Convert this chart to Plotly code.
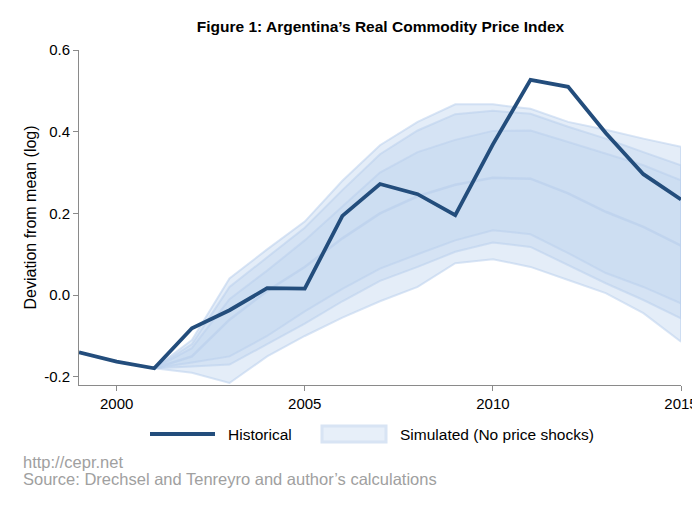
import plotly.graph_objects as go

years = list(range(1999, 2016))
historical = [-0.140, -0.163, -0.179, -0.081, -0.037, 0.017, 0.016, 0.194, 0.272,
              0.247, 0.196, 0.369, 0.527, 0.510, 0.397, 0.296, 0.234]

sim_years = list(range(2001, 2016))
outer_hi = [-0.179, -0.110, 0.041, 0.112, 0.180, 0.280, 0.367, 0.424, 0.467, 0.467, 0.456, 0.424, 0.405, 0.383, 0.363]
mid_hi   = [-0.179, -0.120, 0.020, 0.092, 0.165, 0.257, 0.345, 0.403, 0.443, 0.451, 0.444, 0.412, 0.383, 0.350, 0.318]
inner_hi = [-0.179, -0.130, -0.010, 0.060, 0.134, 0.216, 0.300, 0.350, 0.380, 0.402, 0.403, 0.375, 0.346, 0.318, 0.281]
median   = [-0.179, -0.150, -0.060, 0.010, 0.069, 0.139, 0.200, 0.242, 0.270, 0.287, 0.285, 0.249, 0.204, 0.167, 0.121]
inner_lo = [-0.179, -0.165, -0.150, -0.100, -0.040, 0.015, 0.065, 0.100, 0.134, 0.159, 0.149, 0.103, 0.054, 0.020, -0.020]
mid_lo   = [-0.179, -0.175, -0.170, -0.120, -0.070, -0.015, 0.035, 0.069, 0.106, 0.129, 0.118, 0.073, 0.029, -0.012, -0.057]
outer_lo = [-0.179, -0.190, -0.215, -0.150, -0.100, -0.055, -0.015, 0.020, 0.078, 0.088, 0.069, 0.037, 0.005, -0.044, -0.114]

y_ticks = [-0.2, 0.0, 0.2, 0.4, 0.6]
y_tick_labels = ["-0.2", "0.0", "0.2", "0.4", "0.6"]
x_ticks = [2000, 2005, 2010, 2015]

FILL = "rgba(196,215,239,0.45)"
EDGE = "rgba(186,208,236,0.55)"
NAVY = "#234d7c"
FONT = "Liberation Sans, Arial, Helvetica, sans-serif"

# the page body adds an 8px margin; work in window pixels and convert
OFF = 8
FIG_W, FIG_H = 700 - OFF, 510 - OFF
# plot area in window pixels
L, R, T, B = 79, 681, 50, 385
W, H = R - L, B - T


def px(x):
    return (x - L) / W


def py(y):
    return (B - y) / H


fig = go.Figure()

for hi, lo in [(outer_hi, outer_lo), (mid_hi, mid_lo), (inner_hi, inner_lo)]:
    fig.add_trace(go.Scatter(
        x=sim_years + sim_years[::-1],
        y=hi + lo[::-1],
        fill="toself", fillcolor=FILL,
        line=dict(color=EDGE, width=2),
        mode="lines", name="Simulated (No price shocks)",
        showlegend=False, hoverinfo="skip"))

fig.add_trace(go.Scatter(
    x=sim_years, y=median, mode="lines",
    line=dict(color="rgba(186,208,236,0.7)", width=2.5),
    showlegend=False, hoverinfo="skip"))

fig.add_trace(go.Scatter(
    x=years, y=historical, mode="lines", name="Historical",
    line=dict(color=NAVY, width=3.8), showlegend=False))

fig.update_layout(
    width=FIG_W, height=FIG_H,
    margin=dict(l=L - OFF, r=700 - R, t=T - OFF, b=510 - B, autoexpand=False),
    paper_bgcolor="white", plot_bgcolor="white",
    font=dict(family=FONT, size=15, color="black"),
    title=dict(text="<b>Figure 1: Argentina’s Real Commodity Price Index</b>",
               x=(380.5 - OFF) / FIG_W, xanchor="center",
               y=1 - (27 - OFF) / FIG_H, yanchor="middle",
               font=dict(size=15.5, color="black")),
    xaxis=dict(range=[1999, 2015], tickvals=x_ticks, showgrid=False, zeroline=False,
               showline=True, linecolor="#8a8a8a", linewidth=1,
               ticks="outside", ticklen=5, tickcolor="#8a8a8a",
               tickfont=dict(size=15), automargin=False),
    yaxis=dict(range=[-0.22, 0.6], tickvals=y_ticks, ticktext=y_tick_labels,
               showgrid=False, zeroline=False,
               showline=True, linecolor="#8a8a8a", linewidth=1,
               ticks="outside", ticklen=5, tickcolor="#8a8a8a",
               tickfont=dict(size=15), automargin=False),
    showlegend=False,
)

# y-axis title
fig.add_annotation(text="Deviation from mean (log)", xref="paper", yref="paper",
                   x=px(30), y=0.5, textangle=-90, showarrow=False,
                   xanchor="center", yanchor="middle", font=dict(size=16))

# legend (drawn manually)
fig.add_shape(type="line", xref="paper", yref="paper",
              x0=px(150), x1=px(215), y0=py(434), y1=py(434),
              line=dict(color=NAVY, width=4))
fig.add_annotation(text="Historical", xref="paper", yref="paper",
                   x=px(226), y=py(434), xanchor="left", yanchor="middle",
                   showarrow=False, font=dict(size=15.5))
fig.add_shape(type="rect", xref="paper", yref="paper",
              x0=px(322), x1=px(386), y0=py(442), y1=py(426),
              fillcolor="#e7eff9", line=dict(color="#d8e4f4", width=3))
fig.add_annotation(text="Simulated (No price shocks)", xref="paper", yref="paper",
                   x=px(398), y=py(434), xanchor="left", yanchor="middle",
                   showarrow=False, font=dict(size=15.5))

# notes
fig.add_annotation(text="http://cepr.net", xref="paper", yref="paper",
                   x=px(21), y=py(462), xanchor="left", yanchor="middle",
                   showarrow=False, font=dict(size=16.5, color="#a0a0a0"))
fig.add_annotation(text="Source: Drechsel and Tenreyro and author’s calculations",
                   xref="paper", yref="paper",
                   x=px(21), y=py(479), xanchor="left", yanchor="middle",
                   showarrow=False, font=dict(size=16.5, color="#a0a0a0"))

fig.write_html("out.html")
